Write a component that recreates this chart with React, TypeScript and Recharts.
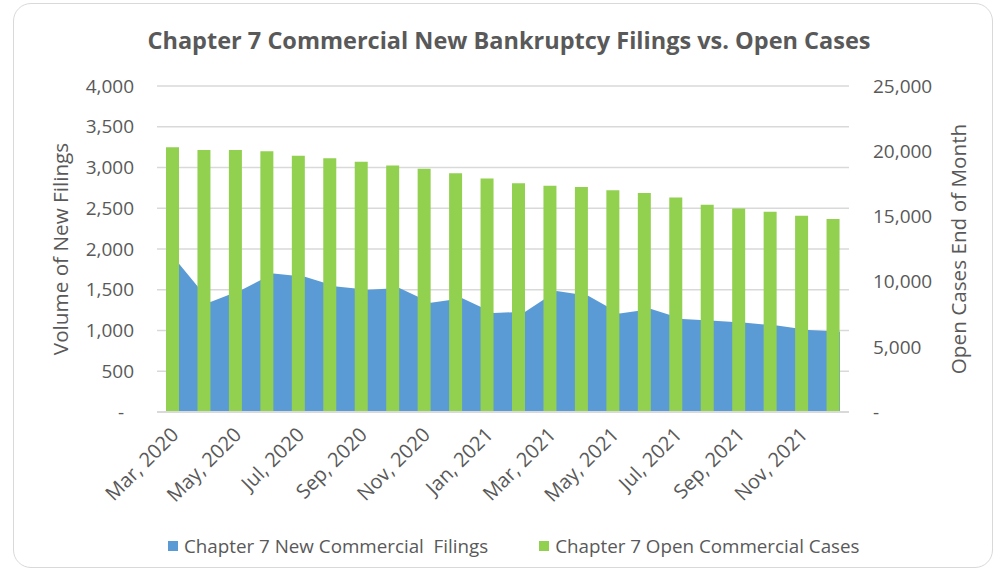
import { ComposedChart, Area, Bar, XAxis, YAxis, CartesianGrid } from 'recharts';

const months = [
  'Mar, 2020', 'Apr, 2020', 'May, 2020', 'Jun, 2020', 'Jul, 2020', 'Aug, 2020',
  'Sep, 2020', 'Oct, 2020', 'Nov, 2020', 'Dec, 2020', 'Jan, 2021', 'Feb, 2021',
  'Mar, 2021', 'Apr, 2021', 'May, 2021', 'Jun, 2021', 'Jul, 2021', 'Aug, 2021',
  'Sep, 2021', 'Oct, 2021', 'Nov, 2021', 'Dec, 2021',
];

// Chapter 7 new commercial filings (left axis)
const newFilings = [
  1820, 1350, 1500, 1700, 1660, 1540, 1500, 1520, 1340, 1395, 1215,
  1230, 1485, 1425, 1210, 1265, 1140, 1120, 1095, 1060, 1005, 985,
];

// Chapter 7 open commercial cases, end of month (right axis)
const openCases = [
  20300, 20100, 20100, 20000, 19650, 19450, 19200, 18900, 18650, 18300, 17900,
  17550, 17350, 17250, 17000, 16800, 16450, 15900, 15600, 15350, 15050, 14800,
];

const leftTicks = [0, 500, 1000, 1500, 2000, 2500, 3000, 3500, 4000];
const rightTicks = [0, 5000, 10000, 15000, 20000, 25000];

const seriesNames = ['Chapter 7 New Commercial  Filings', 'Chapter 7 Open Commercial Cases'];
const seriesColors = ['#5B9BD5', '#92D050'];

const data = months.map((month, i) => ({
  month,
  filings: newFilings[i],
  open: openCases[i],
}));

const FONT = '"Open Sans", "Noto Sans", sans-serif';
const TEXT = '#595959';
const GRID = '#D9D9D9';

const fmt = (v: number) => (v === 0 ? '-\u00a0\u00a0' : v.toLocaleString('en-US'));

const MonthTick = (props: any) => {
  const { x, y, payload } = props;
  const ax = x + 7;
  const ay = y + 16;
  return (
    <text
      x={ax}
      y={ay}
      textAnchor="end"
      transform={`rotate(-45, ${ax}, ${ay})`}
      fill={TEXT}
      fontSize={20}
      fontFamily={FONT}
    >
      {payload.value}
    </text>
  );
};

export default function App() {
  return (
    <div style={{ position: 'absolute', left: 0, top: 0, width: 996, height: 570, background: '#fff', fontFamily: FONT }}>
      <div
        style={{
          position: 'absolute',
          left: 13,
          top: 3,
          width: 980,
          height: 565,
          border: `1.5px solid ${GRID}`,
          borderRadius: 18,
          boxSizing: 'border-box',
        }}
      />
      <div
        style={{
          position: 'absolute',
          left: 0,
          width: 1018,
          top: 24,
          textAlign: 'center',
          fontSize: 23.5,
          fontWeight: 700,
          color: TEXT,
          whiteSpace: 'nowrap',
        }}
      >
        Chapter 7 Commercial New Bankruptcy Filings vs. Open Cases
      </div>

      <ComposedChart
        width={996}
        height={570}
        data={data}
        margin={{ top: 86, right: 47, bottom: 0, left: 57 }}
        style={{ position: 'absolute', left: 0, top: 0 }}
      >
        <CartesianGrid
          xAxisId="bars"
          yAxisId="left"
          vertical={false}
          stroke={GRID}
          strokeWidth={1.5}
        />
        <XAxis
          xAxisId="bars"
          dataKey="month"
          interval={1}
          height={158}
          tick={<MonthTick />}
          tickLine={false}
          axisLine={{ stroke: GRID, strokeWidth: 2 }}
        />
        <XAxis
          xAxisId="area"
          dataKey="month"
          scale="point"
          padding={{ left: 22, right: 9 }}
          height={0}
          hide
        />
        <YAxis
          yAxisId="left"
          width={100}
          domain={[0, 4000]}
          ticks={leftTicks}
          tickFormatter={fmt}
          axisLine={false}
          tickLine={false}
          tickMargin={17}
          tick={{ fill: TEXT, fontSize: 19, fontFamily: FONT }}
          label={{
            value: 'Volume of New Filings',
            angle: -90,
            position: 'center',
            dx: -46,
            fill: TEXT,
            fontSize: 20.7,
            fontFamily: FONT,
          }}
        />
        <YAxis
          yAxisId="right"
          orientation="right"
          width={100}
          domain={[0, 25000]}
          ticks={rightTicks}
          tickFormatter={fmt}
          axisLine={false}
          tickLine={false}
          tickMargin={18}
          tick={{ fill: TEXT, fontSize: 19, fontFamily: FONT, textAnchor: 'start' }}
          label={{
            value: 'Open Cases End of Month',
            angle: -90,
            position: 'center',
            dx: 60,
            fill: TEXT,
            fontSize: 20.7,
            fontFamily: FONT,
          }}
        />
        <Area
          xAxisId="area"
          yAxisId="left"
          type="linear"
          dataKey="filings"
          name={seriesNames[0]}
          fill={seriesColors[0]}
          fillOpacity={1}
          stroke="none"
          isAnimationActive={false}
        />
        <Bar
          xAxisId="bars"
          yAxisId="right"
          dataKey="open"
          name={seriesNames[1]}
          fill={seriesColors[1]}
          barSize={13}
          isAnimationActive={false}
        />
      </ComposedChart>

      <div
        style={{
          position: 'absolute',
          left: 168,
          top: 533,
          display: 'flex',
          alignItems: 'center',
          gap: 51,
          fontSize: 18.8,
          color: TEXT,
          whiteSpace: 'pre',
        }}
      >
        {seriesNames.map((name, i) => (
          <div key={name} style={{ display: 'flex', alignItems: 'center' }}>
            <span style={{ width: 10, height: 10, background: seriesColors[i], marginRight: 6 }} />
            <span>{name}</span>
          </div>
        ))}
      </div>
    </div>
  );
}
